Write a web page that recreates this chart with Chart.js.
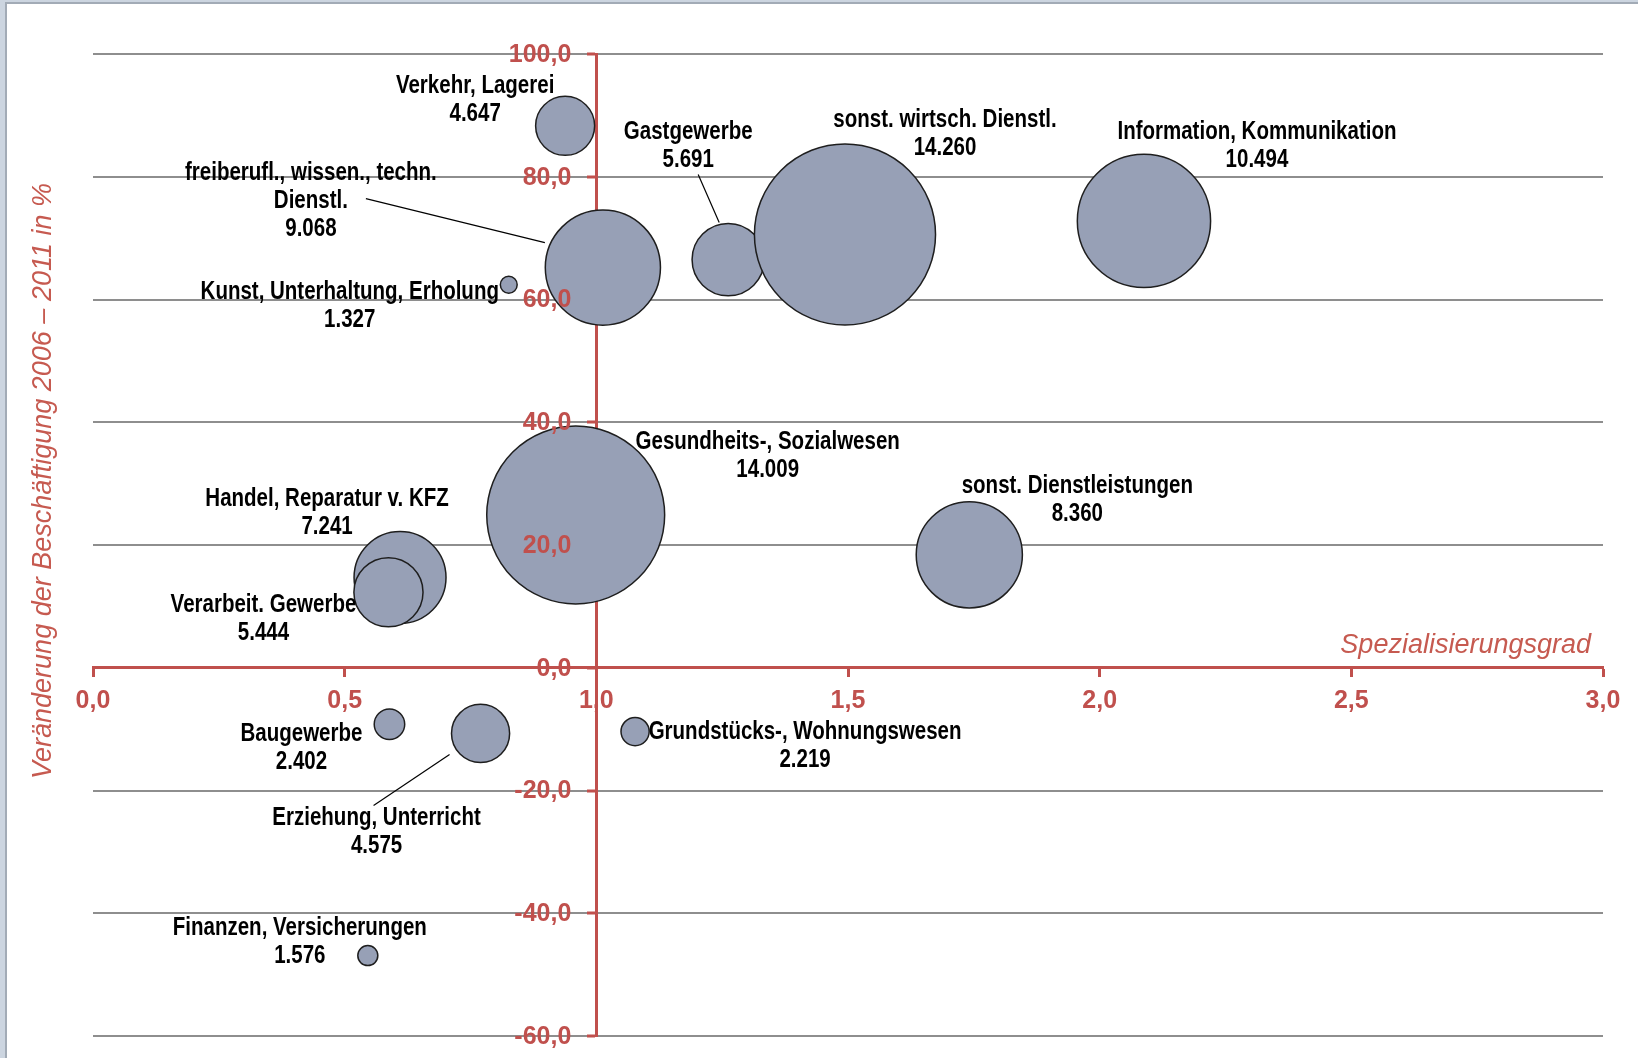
<!DOCTYPE html>
<html><head><meta charset="utf-8">
<script src="https://cdn.jsdelivr.net/npm/chart.js@4.4.0/dist/chart.umd.min.js"></script>
<style>
html,body{margin:0;padding:0;background:#CCD5E0;overflow:hidden;width:1638px;height:1058px}
#frame{position:absolute;left:5px;top:2px;width:1633px;height:1056px;background:#fff;border-left:2px solid #A2ABB6;border-top:2px solid #A2ABB6;box-sizing:border-box}
#c{position:absolute;left:0;top:0}
</style></head><body>
<div id="frame"></div>
<canvas id="c" width="1638" height="1058"></canvas>
<script>
// ---------- DATA ----------
const categories = [
  'Kunst, Unterhaltung, Erholung',
  'Verkehr, Lagerei',
  'Gastgewerbe',
  'sonst. wirtsch. Dienstl.',
  'Information, Kommunikation',
  'freiberufl., wissen., techn.\nDienstl.',
  'Gesundheits-, Sozialwesen',
  'Handel, Reparatur v. KFZ',
  'Verarbeit. Gewerbe',
  'sonst. Dienstleistungen',
  'Baugewerbe',
  'Erziehung, Unterricht',
  'Grundstücks-, Wohnungswesen',
  'Finanzen, Versicherungen'
];
const specialization   = [0.826, 0.938, 1.262, 1.494, 2.088, 1.013, 0.959, 0.610, 0.587, 1.741, 0.589, 0.770, 1.077, 0.546];
const employmentChange = [62.4, 88.3, 66.5, 70.6, 72.8, 65.2, 24.9, 14.7, 12.3, 18.4, -9.2, -10.7, -10.4, -46.9];
const employees        = [1327, 4647, 5691, 14260, 10494, 9068, 14009, 7241, 5444, 8360, 2402, 4575, 2219, 1576];
const xTickLabels = ['0,0','0,5','1,0','1,5','2,0','2,5','3,0'];
const yTickLabels = ['-60,0','-40,0','-20,0','0,0','20,0','40,0','60,0','80,0','100,0'];
const xTitle = 'Spezialisierungsgrad';
const yTitle = 'Veränderung der Beschäftigung 2006 – 2011 in %';

// ---------- LAYOUT (label placement relative to bubble, px) ----------
const labelLayout = [
  {dx:-159, dy:7},
  {dx:-90, dy:-40},
  {dx:-40, dy:-127, lead:[-30,-85,-9,-37]},
  {dx:100, dy:-114},
  {dx:113, dy:-89},
  {dx:-292, dy:-94, lead:[-237,-69,-58,-25]},
  {dx:192, dy:-73},
  {dx:-73, dy:-78},
  {dx:-125, dy:13},
  {dx:108, dy:-69},
  {dx:-88, dy:10},
  {dx:-104, dy:85, lead:[-107,72,-31,21]},
  {dx:170, dy:1},
  {dx:-68, dy:-27}
];
const RED = '#C0504D';
const PX_PER_THOUSAND = 6.35;
const LINE_H = 28;

function fmtThousands(n){ return String(n).replace(/\B(?=(\d{3})+(?!\d))/g, '.'); }

const points = specialization.map((x, i) => ({x: x, y: employmentChange[i], v: employees[i]}));

// keep bubble overflow from enlarging the layout padding
Chart.BubbleController.prototype.getMaxOverflow = function(){ return false; };

let narrowOK = null;
function fontAvailable(ctx, fam){
  const s = 'abcdefghijklmnopqrstuvwxyzABCDEFG0123456789';
  ctx.save();
  ctx.font = 'bold 25px monospace';
  const a = ctx.measureText(s).width;
  ctx.font = 'bold 25px "' + fam + '", monospace';
  const b = ctx.measureText(s).width;
  ctx.restore();
  return Math.abs(a - b) > 0.5;
}
function drawLabelText(ctx, text, x, y){
  if (narrowOK) {
    ctx.font = 'bold 25px "Liberation Sans Narrow"';
    ctx.fillText(text, x, y);
  } else {
    ctx.save();
    ctx.translate(x, y);
    ctx.scale(0.82, 1);
    ctx.font = 'bold 25px "Liberation Sans", Arial, sans-serif';
    ctx.fillText(text, 0, 0);
    ctx.restore();
  }
}

const decor = {
  id: 'decor',
  beforeDraw(chart){
    const ctx = chart.ctx, xs = chart.scales.x, ys = chart.scales.y;
    if (narrowOK === null) narrowOK = fontAvailable(ctx, 'Liberation Sans Narrow');
    const axisY = ys.getPixelForValue(0);
    ctx.save();
    ctx.fillStyle = RED;
    ctx.font = 'bold 25px "Liberation Sans", Arial, sans-serif';
    ctx.textAlign = 'center';
    ctx.textBaseline = 'middle';
    xs.ticks.forEach((t, i) => ctx.fillText(xTickLabels[i], xs.getPixelForValue(t.value), axisY + 33));
    // axis titles
    ctx.font = 'italic 27px "Liberation Sans", Arial, sans-serif';
    ctx.fillStyle = '#C65A50';
    ctx.textAlign = 'right';
    ctx.fillText(xTitle, xs.getPixelForValue(3) - 12, axisY - 22);
    ctx.save();
    ctx.translate(43, (chart.chartArea.top + chart.chartArea.bottom) / 2 - 64);
    ctx.rotate(-Math.PI / 2);
    ctx.textAlign = 'center';
    ctx.fillText(yTitle, 0, 0);
    ctx.restore();
    ctx.restore();
  },
  afterDatasetsDraw(chart){
    const ctx = chart.ctx, xs = chart.scales.x, ys = chart.scales.y;
    const axisX = xs.getPixelForValue(1);
    ctx.save();
    // y tick labels on top of bubbles
    ctx.fillStyle = RED;
    ctx.font = 'bold 25px "Liberation Sans", Arial, sans-serif';
    ctx.textAlign = 'right';
    ctx.textBaseline = 'middle';
    ys.ticks.forEach((t, i) => ctx.fillText(yTickLabels[i], axisX - 25, ys.getPixelForValue(t.value) + 1));
    // data labels
    const meta = chart.getDatasetMeta(0);
    ctx.fillStyle = '#000';
    ctx.strokeStyle = '#000';
    ctx.lineWidth = 1.2;
    ctx.textAlign = 'center';
    meta.data.forEach((el, i) => {
      const L = labelLayout[i];
      const lines = categories[i].split('\n').concat([fmtThousands(employees[i])]);
      lines.forEach((s, j) => drawLabelText(ctx, s, el.x + L.dx, el.y + L.dy + j * LINE_H));
      if (L.lead) {
        ctx.beginPath();
        ctx.moveTo(el.x + L.lead[0], el.y + L.lead[1]);
        ctx.lineTo(el.x + L.lead[2], el.y + L.lead[3]);
        ctx.stroke();
      }
    });
    ctx.restore();
  }
};

new Chart(document.getElementById('c'), {
  type: 'bubble',
  data: {
    datasets: [{
      data: points,
      backgroundColor: '#97A0B6',
      borderColor: '#1E1E1E',
      borderWidth: 1.5,
      radius: ctx => (ctx.raw ? ctx.raw.v / 1000 * PX_PER_THOUSAND : 0)
    }]
  },
  options: {
    responsive: false,
    animation: false,
    devicePixelRatio: 1,
    events: [],
    layout: {padding: {left: 93, right: 35, top: 54, bottom: 22}},
    plugins: {legend: {display: false}, tooltip: {enabled: false}},
    scales: {
      x: {
        type: 'linear', min: 0, max: 3, position: {y: 0},
        ticks: {stepSize: 0.5, display: false},
        grid: {drawOnChartArea: false, drawTicks: true, tickLength: 8, tickColor: RED, tickWidth: 3},
        border: {color: RED, width: 3},
        afterFit: s => { s.height = 0; s.paddingLeft = 0; s.paddingRight = 0; }
      },
      y: {
        type: 'linear', min: -60, max: 100, position: {x: 1},
        ticks: {stepSize: 20, display: false},
        grid: {
          color: c => (c.tick && c.tick.value === 0) ? 'rgba(0,0,0,0)' : '#8E8E8E',
          lineWidth: 2, drawTicks: true, tickLength: 8, tickColor: RED, tickWidth: 3
        },
        border: {color: RED, width: 3},
        afterFit: s => { s.width = 0; s.paddingTop = 0; s.paddingBottom = 0; }
      }
    }
  },
  plugins: [decor]
});
</script>
</body></html>
